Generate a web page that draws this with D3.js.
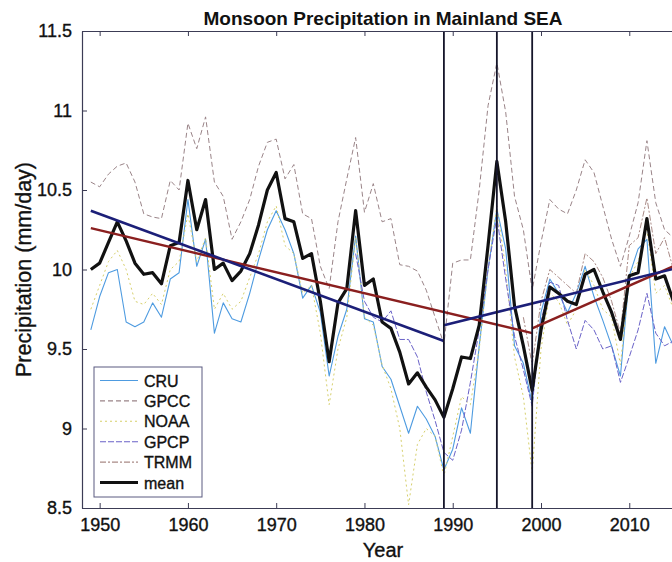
<!DOCTYPE html>
<html>
<head>
<meta charset="utf-8">
<script src="https://cdn.jsdelivr.net/npm/d3@7/dist/d3.min.js"></script>
<style>
  html, body { margin: 0; padding: 0; background: #fff; overflow: hidden; }
  svg text { font-family: "Liberation Sans", Arial, Helvetica, sans-serif; fill: #111; }
  .heavy { stroke: #111; stroke-width: 0.35px; }
</style>
</head>
<body>
<svg id="chart" width="672" height="562"></svg>
<script>
// Annual monsoon precipitation (mm/day), Mainland Southeast Asia
const years = d3.range(1949, 2016);

const cru = [9.62, 9.83, 9.98, 10.0, 9.67, 9.64, 9.67, 9.79, 9.7, 9.94, 9.98,
  10.44, 10.02, 10.19, 9.6, 9.79, 9.69, 9.67, 9.85, 10.06, 10.25,
  10.37, 10.25, 10.1, 9.82, 9.9, 9.73, 9.33, 9.58, 9.75, 10.21,
  9.69, 9.67, 9.39, 9.31, 9.14, 8.97, 9.14, 9.06, 8.95, 8.74,
  8.87, 9.13, 8.97, 9.52, 10.0, 10.38, 10.13, 9.52, 9.41, 9.16,
  9.73, 9.94, 9.85, 9.73, 9.85, 10.02, 9.83, 9.68, 9.52, 9.33,
  9.96, 10.13, 10.19, 9.41, 9.64, 9.52];

const gpcc = [10.55, 10.52, 10.6, 10.65, 10.67, 10.55, 10.35, 10.33, 10.32, 10.56, 10.5,
  10.92, 10.76, 10.96, 10.55, 10.46, 10.19, 10.3, 10.44, 10.65, 10.8,
  10.82, 10.57, 10.66, 10.35, 10.32, 10.02, 9.88, 10.3, 10.57, 10.83,
  10.36, 10.54, 10.3, 10.32, 10.03, 10.02, 9.99, 9.87, 9.7, 9.53,
  10.04, 10.06, 10.06, 10.5, 11.03, 11.3, 10.99, 10.46, 10.25, 9.87,
  10.17, 10.44, 10.38, 10.35, 10.5, 10.69, 10.61, 10.4, 10.19, 10.02,
  10.21, 10.42, 10.81, 10.42, 10.25, 10.2];

const noaa = [9.75, 9.9, 10.05, 10.12, 10.0, 9.8, 9.78, 9.85, 9.78, 10.0, 10.05,
  10.35, 10.05, 10.2, 9.75, 9.85, 9.75, 9.8, 9.95, 10.1, 10.3,
  10.4, 10.15, 10.1, 9.85, 9.9, 9.6, 9.15, 9.5, 9.7, 10.2,
  9.7, 9.65, 9.4, 9.25, 9.0, 8.52, 8.9, 9.0, 8.95, 8.7,
  8.95, 9.2, 9.15, 9.5, 10.0, 10.4, 10.0, 9.45, 9.2, 8.72,
  9.5, 9.85, 9.8, 9.65, 9.75, 10.0, 9.9, 9.75, 9.7, 9.4,
  9.95, 10.05, 10.25, 9.85, 9.9, 9.75];

// GPCP record begins in 1979, TRMM in 1998
const gpcp = [null, null, null, null, null, null, null, null, null, null, null,
  null, null, null, null, null, null, null, null, null, null,
  null, null, null, null, null, null, null, null, null, 10.1,
  9.8, 9.7, 9.67, 9.74, 9.56, 9.56, 9.45, 9.23, 9.05, 8.85,
  8.8, 8.99, 9.29, 9.62, 10.0, 10.33, 9.94, 9.58, 9.37, 9.14,
  9.67, 9.92, 9.9, 9.68, 9.5, 9.68, 9.62, 9.5, 9.52, 9.29,
  9.45, 9.62, 9.85, 9.6, 9.52, 9.55];

const trmm = [null, null, null, null, null, null, null, null, null, null, null,
  null, null, null, null, null, null, null, null, null, null,
  null, null, null, null, null, null, null, null, null, null,
  null, null, null, null, null, null, null, null, null, null,
  null, null, null, null, null, null, null, null, 9.7, 9.4,
  9.8, 10.0, 9.95, 9.9, 9.85, 10.1, 10.05, 9.95, 9.8, 9.6,
  10.15, 10.2, 10.45, 10.1, 10.2, 10.0];

const mean = [10.0, 10.04, 10.17, 10.3, 10.18, 10.04, 9.97, 9.98, 9.91, 10.15, 10.17,
  10.56, 10.25, 10.44, 10.0, 10.04, 9.93, 9.99, 10.1, 10.28, 10.5,
  10.61, 10.32, 10.3, 10.07, 10.1, 9.8, 9.42, 9.79, 9.88, 10.37,
  9.9, 9.94, 9.67, 9.63, 9.48, 9.28, 9.35, 9.26, 9.18, 9.07,
  9.25, 9.45, 9.44, 9.65, 10.15, 10.68, 10.3, 9.77, 9.52, 9.24,
  9.62, 9.89, 9.85, 9.8, 9.78, 9.97, 10.0, 9.86, 9.73, 9.56,
  9.96, 9.98, 10.32, 9.94, 9.96, 9.8];

// Piecewise linear trends of the mean: [startYear, startValue, endYear, endValue]
const trendBreak1989 = [[1949, 10.37, 1989, 9.55], [1989, 9.65, 2016.2, 10.02]];
const trendBreak1999 = [[1949, 10.26, 1999, 9.60], [1999, 9.63, 2016.2, 10.05]];

// Marked years
const markerYears = [1989, 1995, 1999];

const xTicks = [1950, 1960, 1970, 1980, 1990, 2000, 2010];
const yTicks = [8.5, 9, 9.5, 10, 10.5, 11, 11.5];

const seriesDefs = [
  { name: "CRU",  values: cru,  color: "#4e9be0", width: 1.1, dash: null },
  { name: "GPCC", values: gpcc, color: "#9a8488", width: 1.0, dash: "5,3" },
  { name: "NOAA", values: noaa, color: "#d6cf6a", width: 1.0, dash: "2,3" },
  { name: "GPCP", values: gpcp, color: "#6a62c8", width: 1.0, dash: "6,2" },
  { name: "TRMM", values: trmm, color: "#a98a86", width: 1.0, dash: "6,2,2,2" },
  { name: "mean", values: mean, color: "#111111", width: 3.2, dash: null }
];

const svg = d3.select("#chart");
const plotLeft = 82, plotTop = 31, plotRight = 684, plotBottom = 508;

const x = d3.scaleLinear().domain([1948, 2016.2]).range([plotLeft, plotRight]);
const y = d3.scaleLinear().domain([8.5, 11.5]).range([plotBottom, plotTop]);

svg.append("defs").append("clipPath").attr("id", "plotClip")
  .append("rect").attr("x", plotLeft).attr("y", plotTop)
  .attr("width", plotRight - plotLeft).attr("height", plotBottom - plotTop);

const lineGen = d3.line()
  .defined(d => d[1] != null)
  .x(d => x(d[0]))
  .y(d => y(d[1]));

const dataLayer = svg.append("g").attr("clip-path", "url(#plotClip)");

// Thin dataset lines first, mean on top
seriesDefs.forEach(s => {
  dataLayer.append("path")
    .datum(years.map((yr, i) => [yr, s.values[i]]))
    .attr("fill", "none")
    .attr("stroke", s.color)
    .attr("stroke-width", s.width)
    .attr("stroke-dasharray", s.dash)
    .attr("stroke-linejoin", "round")
    .attr("d", lineGen);
});

// Trend segments
const trendGroups = [
  { segs: trendBreak1999, color: "#8a1f1f", width: 2.4 },
  { segs: trendBreak1989, color: "#1c1f78", width: 2.6 }
];
trendGroups.forEach(g => {
  dataLayer.selectAll(null).data(g.segs).enter().append("line")
    .attr("x1", d => x(d[0])).attr("y1", d => y(d[1]))
    .attr("x2", d => x(d[2])).attr("y2", d => y(d[3]))
    .attr("stroke", g.color).attr("stroke-width", g.width);
});

// Vertical markers
dataLayer.selectAll(null).data(markerYears).enter().append("line")
  .attr("x1", d => x(d)).attr("x2", d => x(d))
  .attr("y1", plotTop).attr("y2", plotBottom)
  .attr("stroke", "#15152a").attr("stroke-width", 1.8);

// Axes
const axisColor = "#3c3c55";
const xAxis = svg.append("g").attr("transform", `translate(0,${plotBottom})`)
  .call(d3.axisBottom(x).tickValues(xTicks).tickFormat(d3.format("d")).tickSizeInner(-5).tickSizeOuter(0).tickPadding(10));
const xAxisTop = svg.append("g").attr("transform", `translate(0,${plotTop})`)
  .call(d3.axisTop(x).tickValues(xTicks).tickFormat("").tickSizeInner(-5).tickSizeOuter(0));
const yAxis = svg.append("g").attr("transform", `translate(${plotLeft},0)`)
  .call(d3.axisLeft(y).tickValues(yTicks).tickFormat(d3.format("")).tickSizeInner(-5).tickSizeOuter(0).tickPadding(10));

[xAxis, xAxisTop, yAxis].forEach(a => {
  a.select(".domain").attr("stroke", axisColor).attr("stroke-width", 1.2);
  a.selectAll(".tick line").attr("stroke", axisColor).attr("stroke-width", 1);
  a.selectAll(".tick text").attr("font-size", 18).attr("fill", "#111")
    .attr("class", "heavy")
    .attr("font-family", "'Liberation Sans', Arial, sans-serif");
});

// Titles
svg.append("text").attr("x", (plotLeft + plotRight) / 2).attr("y", 25)
  .attr("text-anchor", "middle").attr("font-size", 19).attr("font-weight", "bold")
  .text("Monsoon Precipitation in Mainland SEA");
svg.append("text").attr("x", (plotLeft + plotRight) / 2).attr("y", 557)
  .attr("text-anchor", "middle").attr("font-size", 20).attr("class", "heavy")
  .text("Year");
svg.append("text")
  .attr("transform", `translate(31,${(plotTop + plotBottom) / 2}) rotate(-90)`)
  .attr("text-anchor", "middle").attr("font-size", 21.5).attr("class", "heavy")
  .text("Precipitation (mm/day)");

// Legend
const legend = svg.append("g").attr("transform", "translate(94,367)");
legend.append("rect").attr("x", 0).attr("y", 0).attr("width", 108).attr("height", 130)
  .attr("fill", "#fff").attr("stroke", "#5a5a80").attr("stroke-width", 1);
seriesDefs.forEach((s, i) => {
  const ly = 13.5 + i * 20.4;
  legend.append("line").attr("x1", 6).attr("x2", 44).attr("y1", ly).attr("y2", ly)
    .attr("stroke", s.color).attr("stroke-width", s.name === "mean" ? 3.2 : 1.1)
    .attr("stroke-dasharray", s.dash);
  legend.append("text").attr("x", 50).attr("y", ly + 6).attr("font-size", 16)
    .attr("class", "heavy")
    .text(s.name);
});
</script>
</body>
</html>
